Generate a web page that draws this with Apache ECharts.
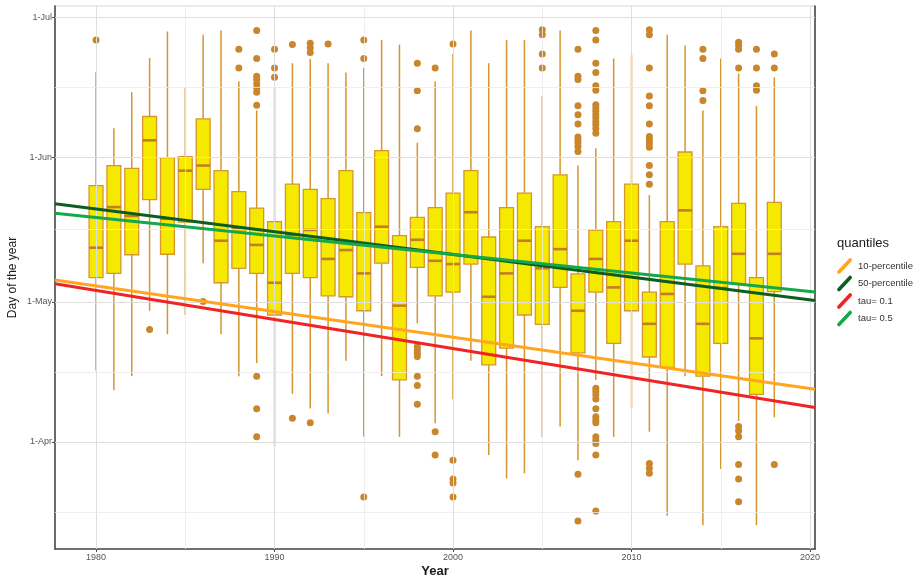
<!DOCTYPE html>
<html>
<head>
<meta charset="utf-8">
<script src="https://cdn.jsdelivr.net/npm/echarts@6/dist/echarts.min.js"></script>
<style>
  html, body { margin: 0; padding: 0; background: #fff; }
  #chart { width: 917px; height: 579px; }
</style>
</head>
<body>
<div id="chart"></div>
<script>
// Flowering day-of-year per season: box statistics (day of year)
const years = [1980,1981,1982,1983,1984,1985,1986,1987,1988,1989,1990,1991,1992,1993,1994,1995,1996,1997,1998,1999,2000,2001,2002,2003,2004,2005,2006,2007,2008,2009,2010,2011,2012,2013,2014,2015,2016,2017,2018];
const whiskerLow  = [106.3,102.1,105.1,119.1,114.1,118.2,129.3,114.1,105.1,107.9,90.2,101.3,98.2,97.1,108.4,92.1,105.1,92.1,116.4,95.0,100.2,108.4,88.2,83.2,84.3,92.1,94.3,87.1,104.3,92.1,98.2,93.2,75.2,105.1,73.2,85.2,95.5,73.2,96.3];
const q1          = [126.2,127.1,131.1,142.9,131.2,138.1,145.1,125.1,128.2,127.1,118.2,127.1,126.2,122.3,122.1,119.1,129.3,104.3,128.4,122.3,123.1,129.1,107.5,111.1,118.2,116.2,124.1,110.1,123.1,112.1,119.1,109.2,107.0,129.1,105.1,112.1,124.9,101.2,123.2];
const median      = [132.6,141.3,139.4,155.6,138.8,149.1,150.2,134.1,136.6,133.2,125.1,135.4,136.4,130.2,132.1,127.1,137.1,120.2,134.3,129.8,129.1,140.2,122.1,127.1,134.1,128.2,132.3,119.1,130.2,124.1,134.1,116.3,122.7,140.6,116.3,124.0,131.3,113.2,131.3];
const q3          = [145.9,150.2,149.6,160.7,151.9,152.1,160.2,149.1,144.6,141.1,138.2,146.2,145.1,143.1,149.1,140.1,153.4,135.2,139.1,141.2,144.3,149.1,134.9,141.2,144.3,137.1,148.2,127.0,136.4,138.2,146.2,123.1,138.2,153.1,128.7,137.1,142.1,126.2,142.3];
const whiskerHigh = [170.2,158.2,165.9,173.2,178.9,167.0,178.2,179.1,168.2,162.0,167.0,172.1,173.0,172.1,170.1,171.1,177.1,176.1,155.1,168.2,174.1,179.1,172.1,177.1,177.1,165.1,179.1,150.2,153.9,173.1,173.9,143.9,178.2,175.9,162.0,173.1,169.9,163.0,169.1];

// Outlying observations, one list per year (same order as `years`)
const outliers = [
  [177.1],
  [],
  [],
  [115.1],
  [],
  [],
  [121.1],
  [],
  [175.1,171.1],
  [179.1,173.1,169.3,168.6,167.7,166.8,165.9,163.1,105.1,98.1,92.1],
  [175.1,171.1,169.1],
  [176.1,96.1],
  [176.4,175.4,174.4,95.1],
  [176.2],
  [],
  [177.1,173.1,79.2],
  [],
  [],
  [172.1,166.2,158.1,111.4,110.7,110.0,109.3,105.1,103.1,99.1],
  [171.1,93.2,88.2],
  [176.2,87.1,83.1,82.2,79.2],
  [],
  [],
  [],
  [],
  [179.3,178.2,174.1,171.1],
  [],
  [175.1,169.3,168.6,163.0,161.1,159.1,156.3,155.7,155.0,154.3,153.2,84.1,74.1],
  [179.1,177.1,172.1,170.1,167.3,166.3,163.2,162.5,161.8,161.1,160.4,159.6,158.9,158.1,157.1,102.5,101.8,101.1,100.2,98.1,96.4,95.7,95.1,92.1,91.4,90.7,88.2,76.2],
  [],
  [],
  [179.3,178.2,171.1,165.1,163.0,159.1,156.4,155.7,154.9,154.1,150.2,148.2,146.2,86.4,85.4,84.3],
  [],
  [],
  [175.1,173.1,166.2,164.1],
  [],
  [176.6,175.9,175.1,171.1,94.3,93.4,92.1,86.2,83.1,78.2],
  [175.1,171.1,167.3,166.3],
  [174.1,171.1,86.2]
];

// Fitted quantile trend lines, given at the two ends of the year range
const lineYears = [1977.7, 2020.28];
const pct10 = [125.7, 102.3];
const pct50 = [142.0, 121.3];
const tau01 = [124.9, 98.4];
const tau05 = [140.0, 123.1];

// Axis ticks
const xTicks = [1980, 1990, 2000, 2010, 2020];
const xMinorTicks = [1985, 1995, 2005, 2015];
const yTickDays = [91, 121, 152, 182];
const yTickLabels = ['1-Apr', '1-May', '1-Jun', '1-Jul'];
const yMinorDays = [76, 106, 136.5, 167];

const FONT = '"Liberation Sans", Arial, sans-serif';
const BOX_FILL = '#f5e900';
const BOX_LINE = '#d5962f';
const MEDIAN_LINE = '#c17e22';
const POINT = '#c9862b';

const boxData = years.map((y, i) => [y, whiskerLow[i], q1[i], median[i], q3[i], whiskerHigh[i]]);
const outlierData = [];
years.forEach((y, i) => outliers[i].forEach(v => outlierData.push([y, v])));

function renderBox(params, api) {
  const x = api.value(0);
  const lo = api.coord([x, api.value(1)]);
  const b1 = api.coord([x, api.value(2)]);
  const md = api.coord([x, api.value(3)]);
  const b3 = api.coord([x, api.value(4)]);
  const hi = api.coord([x, api.value(5)]);
  const half = api.size([0.78, 0])[0] / 2;
  const whisker = { stroke: BOX_LINE, lineWidth: 1.5 };
  return {
    type: 'group',
    children: [
      { type: 'line', shape: { x1: lo[0], y1: lo[1], x2: b1[0], y2: b1[1] }, style: whisker },
      { type: 'line', shape: { x1: b3[0], y1: b3[1], x2: hi[0], y2: hi[1] }, style: whisker },
      { type: 'rect', shape: { x: b3[0] - half, y: b3[1], width: half * 2, height: b1[1] - b3[1] },
        style: { fill: BOX_FILL, stroke: BOX_LINE, lineWidth: 1.3 } },
      { type: 'line', shape: { x1: md[0] - half, y1: md[1], x2: md[0] + half, y2: md[1] },
        style: { stroke: MEDIAN_LINE, lineWidth: 2.6 } }
    ]
  };
}

function gridLines() {
  const major = { color: '#dedede', width: 1, type: 'solid' };
  const minor = { color: '#ebebeb', width: 0.8, type: 'solid' };
  const d = [];
  xTicks.forEach(v => d.push({ xAxis: v, lineStyle: major }));
  xMinorTicks.forEach(v => d.push({ xAxis: v, lineStyle: minor }));
  yTickDays.forEach(v => d.push({ yAxis: v, lineStyle: major }));
  yMinorDays.forEach(v => d.push({ yAxis: v, lineStyle: minor }));
  return d;
}

const legendIcon = 'path://M0,15 L13,1 Q14.5,-0.5 16,1 Q17.5,2.5 16,4 L3,18 Q1.5,19.5 0,18 Q-1.5,16.5 0,15 Z';

function trend(name, values, color) {
  return {
    name: name,
    type: 'line',
    data: lineYears.map((x, i) => [x, values[i]]),
    showSymbol: false,
    symbol: 'none',
    lineStyle: { color: color, width: 3 },
    itemStyle: { color: color },
    z: 10,
    silent: true
  };
}

const chart = echarts.init(document.getElementById('chart'), null, { renderer: 'canvas' });
chart.setOption({
  animation: false,
  backgroundColor: '#ffffff',
  textStyle: { fontFamily: FONT },
  grid: {
    left: 55, right: 102, top: 6, bottom: 30,
    containLabel: false, outerBoundsMode: 'none',
    show: true, borderColor: '#d6d6d6', borderWidth: 1, backgroundColor: 'transparent'
  },
  title: {
    text: 'quantiles', left: 832, top: 232,
    textStyle: { fontFamily: FONT, fontSize: 13, fontWeight: 'normal', color: '#1a1a1a' }
  },
  legend: {
    orient: 'vertical', left: 832, top: 253,
    itemWidth: 17, itemHeight: 16, itemGap: 1.5,
    icon: legendIcon,
    textStyle: { fontFamily: FONT, fontSize: 9.5, color: '#333' },
    data: ['10-percentile', '50-percentile', 'tau= 0.1', 'tau= 0.5'],
    selectedMode: false
  },
  xAxis: {
    type: 'value', min: 1977.7, max: 2020.28,
    name: 'Year', nameLocation: 'middle', nameGap: 16, nameMoveOverlap: false,
    nameTextStyle: { fontFamily: FONT, fontSize: 13, fontWeight: 'bold', color: '#1a1a1a' },
    axisLine: { show: true, onZero: false, lineStyle: { color: '#4a4a4a', width: 1.6 } },
    axisTick: { show: true, length: 3, customValues: xTicks, lineStyle: { color: '#4a4a4a' } },
    axisLabel: { customValues: xTicks, fontSize: 9, color: '#555', margin: 4, fontFamily: FONT,
      formatter: v => String(Math.round(v)) },
    splitLine: { show: false }
  },
  yAxis: [{
    type: 'value', min: 68.09, max: 184.36,
    name: 'Day of the year', nameLocation: 'middle', nameGap: 36, nameRotate: 90, nameMoveOverlap: false,
    nameTextStyle: { fontFamily: FONT, fontSize: 12, color: '#1a1a1a' },
    axisLine: { show: true, onZero: false, lineStyle: { color: '#4a4a4a', width: 1.6 } },
    axisTick: { show: true, length: 3, customValues: yTickDays, lineStyle: { color: '#4a4a4a' } },
    axisLabel: {
      customValues: yTickDays, fontSize: 9, color: '#555', margin: 3, fontFamily: FONT,
      formatter: v => yTickLabels[yTickDays.indexOf(Math.round(v))] || ''
    },
    splitLine: { show: false }
  }, {
    type: 'value', min: 68.09, max: 184.36, position: 'right',
    axisLine: { show: true, onZero: false, lineStyle: { color: '#4a4a4a', width: 1.6 } },
    axisTick: { show: false }, axisLabel: { show: false }, splitLine: { show: false }
  }],
  series: [
    {
      name: 'grid', type: 'line', data: [], z: 0, silent: true,
      markLine: { silent: true, symbol: ['none', 'none'], label: { show: false }, animation: false, data: gridLines() }
    },
    {
      name: 'boxes', type: 'custom', renderItem: renderBox, data: boxData,
      encode: { x: 0, y: [1, 2, 3, 4, 5] }, z: 3, silent: true
    },
    {
      name: 'outliers', type: 'scatter', data: outlierData, symbolSize: 7,
      itemStyle: { color: POINT, opacity: 1 }, z: 4, silent: true
    },
    trend('10-percentile', pct10, '#ffa51f'),
    trend('50-percentile', pct50, '#0b5e1f'),
    trend('tau= 0.1', tau01, '#f02424'),
    trend('tau= 0.5', tau05, '#14a84a')
  ]
});
</script>
</body>
</html>
